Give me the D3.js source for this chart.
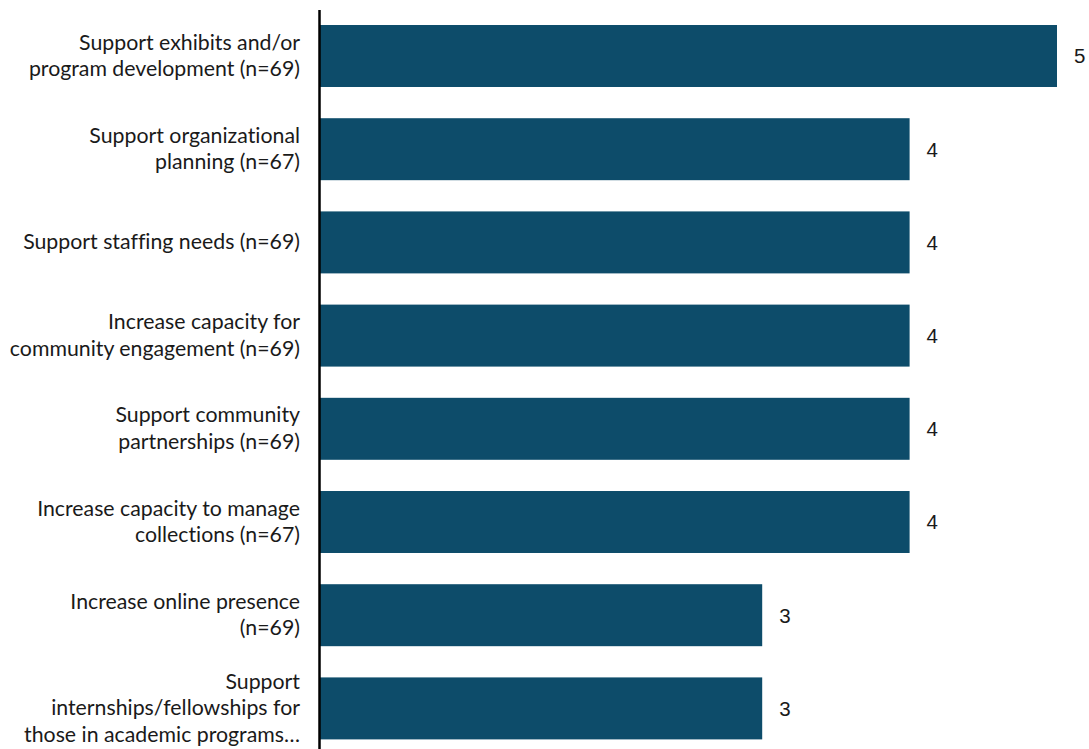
<!DOCTYPE html>
<html>
<head>
<meta charset="utf-8">
<script src="https://cdn.jsdelivr.net/npm/d3@7"></script>
<style>
  html, body { margin: 0; padding: 0; background: #fff; }
  svg { display: block; }
  .tick text { font-variant-ligatures: none; }
</style>
</head>
<body>
<svg id="chart" width="1089" height="749"></svg>
<script>
// Areas of support and their mean ratings
const categories = [
  "Support exhibits and/or program development (n=69)",
  "Support organizational planning (n=67)",
  "Support staffing needs (n=69)",
  "Increase capacity for community engagement (n=69)",
  "Support community partnerships (n=69)",
  "Increase capacity to manage collections (n=67)",
  "Increase online presence (n=69)",
  "Support internships/fellowships for those in academic programs…"
];
const values = [5, 4, 4, 4, 4, 4, 3, 3];

const width = 1089, height = 749;
const margin = { left: 320, right: 32, top: 9.4, bottom: -6 };

const svg = d3.select("#chart");

const x = d3.scaleLinear()
  .domain([0, 5])
  .range([margin.left, 1057]);

const y = d3.scaleBand()
  .domain(categories)
  .range([margin.top, height - margin.bottom])
  .paddingInner(0.335)
  .paddingOuter(0.1675);

// Bars
svg.append("g")
  .selectAll("rect")
  .data(categories)
  .join("rect")
  .attr("x", x(0))
  .attr("y", d => y(d))
  .attr("width", (d, i) => x(values[i]) - x(0))
  .attr("height", y.bandwidth())
  .attr("fill", "#0d4c6a");

// Value labels
svg.append("g")
  .selectAll("text")
  .data(categories)
  .join("text")
  .attr("x", (d, i) => x(values[i]) + 17)
  .attr("y", d => y(d) + y.bandwidth() / 2)
  .attr("dy", "0.36em")
  .attr("font-family", "'Liberation Sans', Arial, sans-serif")
  .attr("font-size", 20.5)
  .attr("fill", "#1a1a1a")
  .text((d, i) => values[i]);

// Category axis with wrapped labels
const axis = svg.append("g")
  .attr("transform", `translate(${margin.left},0)`)
  .call(d3.axisLeft(y).tickSize(0).tickPadding(20));

axis.select(".domain").remove();

axis.selectAll(".tick text")
  .attr("font-family", "Lato, 'Noto Sans', sans-serif")
  .attr("font-size", 21.3)
  .attr("fill", "#1a1a1a")
  .call(wrap, 293);

svg.append("line")
  .attr("x1", margin.left - 0.5)
  .attr("x2", margin.left - 0.5)
  .attr("y1", 10)
  .attr("y2", height)
  .attr("stroke", "#000")
  .attr("stroke-width", 2.5);

function wrap(texts, maxWidth) {
  const lineHeight = 26.5;
  texts.each(function() {
    const text = d3.select(this);
    const words = text.text().split(/\s+/);
    const xPos = text.attr("x");
    text.text(null);
    text.attr("dy", null);
    const lines = [];
    let line = [];
    const probe = text.append("tspan");
    for (const w of words) {
      line.push(w);
      probe.text(line.join(" "));
      if (probe.node().getComputedTextLength() > maxWidth && line.length > 1) {
        line.pop();
        lines.push(line.join(" "));
        line = [w];
      }
    }
    lines.push(line.join(" "));
    probe.remove();
    const offset = -(lines.length - 1) / 2 * lineHeight;
    lines.forEach((l, i) => {
      text.append("tspan")
        .attr("x", xPos)
        .attr("y", offset + i * lineHeight)
        .attr("dy", "0.32em")
        .text(l);
    });
  });
}
</script>
</body>
</html>
